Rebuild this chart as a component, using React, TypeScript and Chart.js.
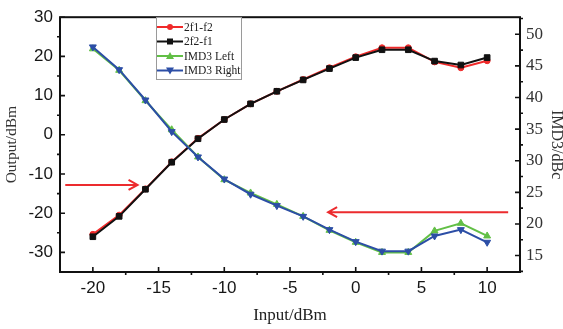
import React, { useEffect, useRef } from 'react';
import { Chart, registerables } from 'chart.js';
Chart.register(...registerables);

// ---- data ----
const inputDbm = [-20, -18, -16, -14, -12, -10, -8, -6, -4, -2, 0, 2, 4, 6, 8, 10];
const out2f1f2 = [-25.4, -20.5, -13.8, -6.9, -0.9, 3.9, 7.9, 11.1, 14.1, 17.1, 19.9, 22.2, 22.2, 18.6, 17.1, 18.9];
const out2f2f1 = [-26.0, -20.8, -13.9, -7.0, -1.0, 3.9, 7.9, 11.1, 14.0, 16.9, 19.7, 21.7, 21.7, 18.8, 17.8, 19.7];
const imd3Left = [47.7, 44.3, 39.5, 34.9, 30.6, 27.0, 24.9, 23.1, 21.2, 19.0, 17.1, 15.5, 15.5, 18.9, 20.1, 18.1];
const imd3Right = [48.0, 44.4, 39.6, 34.6, 30.6, 27.1, 24.7, 22.9, 21.2, 19.1, 17.2, 15.7, 15.7, 18.1, 19.1, 17.1];

const xTicks = [-20, -15, -10, -5, 0, 5, 10];
const leftTicks = [-30, -20, -10, 0, 10, 20, 30];
const rightTicks = [15, 20, 25, 30, 35, 40, 45, 50];

// annotation arrows (data coords: x on input axis, y on left axis)
const arrowFromX = [-22.1, 11.6];
const arrowToX = [-16.6, -2.1];
const arrowY = [-12.8, -19.75];

const RED = '#f02a2a';
const BLACK = '#111111';
const GREEN = '#62bf46';
const BLUE = '#2c4ea6';
const ARROW = '#ec2b2e';

const SERIF = '"Liberation Serif", "Times New Roman", serif';
const SANS = '"Liberation Sans", Arial, sans-serif';

function minorOf(ticks: number[], min: number, max: number) {
  const step = ticks[1] - ticks[0];
  const out: number[] = [];
  for (let i = -1; i < ticks.length; i++) {
    const v = (i < 0 ? ticks[0] - step : ticks[i]) + step / 2;
    if (v > min + 1e-6 && v < max - 1e-6) out.push(v);
  }
  return out;
}

function drawMarker(ctx: CanvasRenderingContext2D, style: string, x: number, y: number, color: string) {
  ctx.fillStyle = color;
  ctx.beginPath();
  if (style === 'circle') {
    ctx.arc(x, y, 3, 0, Math.PI * 2);
  } else if (style === 'rect') {
    ctx.rect(x - 3, y - 3, 6, 6);
  } else if (style === 'tri') {
    ctx.moveTo(x, y - 4);
    ctx.lineTo(x + 4, y + 3);
    ctx.lineTo(x - 4, y + 3);
    ctx.closePath();
  } else {
    ctx.moveTo(x, y + 4);
    ctx.lineTo(x + 4, y - 3);
    ctx.lineTo(x - 4, y - 3);
    ctx.closePath();
  }
  ctx.fill();
}

const decorPlugin = {
  id: 'decor',
  afterDraw(chart: any) {
    const { ctx, chartArea: a, scales } = chart;
    const sx = scales.x, yl = scales.yLeft, yr = scales.yRight;
    ctx.save();
    // frame
    ctx.strokeStyle = BLACK;
    ctx.lineWidth = 2;
    ctx.strokeRect(a.left, a.top, a.right - a.left, a.bottom - a.top);
    // ticks: major inward, minor outward
    ctx.lineWidth = 1.6;
    ctx.beginPath();
    xTicks.forEach((v) => { const p = sx.getPixelForValue(v); ctx.moveTo(p, a.bottom); ctx.lineTo(p, a.bottom - 5); });
    minorOf(xTicks, sx.min, sx.max).forEach((v) => { const p = sx.getPixelForValue(v); ctx.moveTo(p, a.bottom); ctx.lineTo(p, a.bottom + 3); });
    leftTicks.forEach((v) => { const p = yl.getPixelForValue(v); ctx.moveTo(a.left, p); ctx.lineTo(a.left + 5, p); });
    minorOf(leftTicks, yl.min, yl.max).forEach((v) => { const p = yl.getPixelForValue(v); ctx.moveTo(a.left, p); ctx.lineTo(a.left - 3, p); });
    rightTicks.forEach((v) => { const p = yr.getPixelForValue(v); ctx.moveTo(a.right, p); ctx.lineTo(a.right - 5, p); });
    minorOf(rightTicks, yr.min, yr.max).forEach((v) => { const p = yr.getPixelForValue(v); ctx.moveTo(a.right, p); ctx.lineTo(a.right + 3, p); });
    ctx.stroke();

    // arrows
    ctx.strokeStyle = ARROW;
    ctx.lineWidth = 2;
    for (let i = 0; i < arrowY.length; i++) {
      const x0 = sx.getPixelForValue(arrowFromX[i]);
      const x1 = sx.getPixelForValue(arrowToX[i]);
      const y = yl.getPixelForValue(arrowY[i]);
      const dir = x1 > x0 ? 1 : -1;
      ctx.beginPath();
      ctx.moveTo(x0, y);
      ctx.lineTo(x1, y);
      ctx.moveTo(x1 - dir * 9, y - 5);
      ctx.lineTo(x1, y);
      ctx.lineTo(x1 - dir * 9, y + 5);
      ctx.stroke();
    }

    // legend
    const bx = 156, by = 17, bw = 85, bh = 62;
    ctx.fillStyle = '#ffffff';
    ctx.fillRect(bx, by, bw, bh);
    ctx.strokeStyle = '#9a9a9a';
    ctx.lineWidth = 1;
    ctx.strokeRect(bx + 0.5, by + 0.5, bw, bh);
    const styles = ['circle', 'rect', 'tri', 'itri'];
    const ds = chart.data.datasets;
    ctx.font = '11.5px ' + SERIF;
    ctx.textBaseline = 'middle';
    ctx.textAlign = 'left';
    for (let i = 0; i < 4; i++) {
      const y = by + 10 + i * 14.5;
      const c = ds[i].borderColor;
      ctx.strokeStyle = c;
      ctx.lineWidth = 2;
      ctx.beginPath();
      ctx.moveTo(bx + 1, y);
      ctx.lineTo(bx + 27, y);
      ctx.stroke();
      drawMarker(ctx, styles[i], bx + 14, y, c);
      ctx.fillStyle = '#222';
      ctx.fillText(ds[i].label, bx + 28, y + 0.5);
    }
    ctx.restore();
  },
};

export default function App() {
  const ref = useRef<HTMLCanvasElement | null>(null);
  useEffect(() => {
    if (!ref.current) return;
    const mk = (ys: number[]) => inputDbm.map((x, i) => ({ x, y: ys[i] }));
    const chart = new Chart(ref.current, {
      type: 'line',
      data: {
        datasets: [
          { label: '2f1-f2', data: mk(out2f1f2), yAxisID: 'yLeft', borderColor: RED, backgroundColor: RED, pointBackgroundColor: RED, pointBorderColor: RED, pointStyle: 'circle', pointRadius: 3, pointBorderWidth: 1, borderWidth: 2, order: 4 },
          { label: '2f2-f1', data: mk(out2f2f1), yAxisID: 'yLeft', borderColor: BLACK, backgroundColor: BLACK, pointBackgroundColor: BLACK, pointBorderColor: BLACK, pointStyle: 'rect', pointRadius: 4, pointBorderWidth: 1, borderWidth: 2, order: 3 },
          { label: 'IMD3 Left', data: mk(imd3Left), yAxisID: 'yRight', borderColor: GREEN, backgroundColor: GREEN, pointBackgroundColor: GREEN, pointBorderColor: GREEN, pointStyle: 'triangle', pointRadius: 4, pointBorderWidth: 1, borderWidth: 2, order: 2 },
          { label: 'IMD3 Right', data: mk(imd3Right), yAxisID: 'yRight', borderColor: BLUE, backgroundColor: BLUE, pointBackgroundColor: BLUE, pointBorderColor: BLUE, pointStyle: 'triangle', pointRotation: 180, pointRadius: 4, pointBorderWidth: 1, borderWidth: 2, order: 1 },
        ] as any,
      },
      options: {
        responsive: false,
        animation: false,
        devicePixelRatio: 1,
        layout: { padding: { top: 15, left: 0, right: 0, bottom: 0 } },
        plugins: { legend: { display: false }, tooltip: { enabled: false } },
        elements: { line: { tension: 0 } },
        scales: {
          x: {
            type: 'linear',
            min: -22.5,
            max: 12.5,
            afterBuildTicks: (s: any) => { s.ticks = xTicks.map((v) => ({ value: v })); },
            afterFit: (s: any) => { s.height = 57; },
            grid: { display: false, drawTicks: false },
            border: { display: false },
            ticks: { font: { family: SANS, size: 17 }, color: '#161616', padding: 6, maxRotation: 0, autoSkip: false },
            title: { display: true, text: 'Input/dBm', font: { family: SERIF, size: 17, lineHeight: 1 }, color: '#222', padding: { top: 0, bottom: 4.5 } },
          },
          yLeft: {
            type: 'linear',
            position: 'left',
            min: -35,
            max: 30,
            afterBuildTicks: (s: any) => { s.ticks = leftTicks.map((v) => ({ value: v })); },
            afterFit: (s: any) => { s.width = 60; },
            grid: { display: false, drawTicks: false },
            border: { display: false },
            ticks: { font: { family: SANS, size: 17 }, color: '#161616', padding: 7, autoSkip: false },
            title: { display: true, text: 'Output/dBm', font: { family: SERIF, size: 15.5, lineHeight: 1 }, color: '#333', padding: { top: 4.5, bottom: 0 } },
          },
          yRight: {
            type: 'linear',
            position: 'right',
            min: 12.4,
            max: 52.7,
            afterBuildTicks: (s: any) => { s.ticks = rightTicks.map((v) => ({ value: v })); },
            afterFit: (s: any) => { s.width = 43; },
            grid: { display: false, drawTicks: false },
            border: { display: false },
            ticks: { font: { family: SERIF, size: 17 }, color: '#333', padding: 6, autoSkip: false },
            title: { display: true, text: 'IMD3/dBc', font: { family: SERIF, size: 16, lineHeight: 1 }, color: '#333', padding: { top: -1, bottom: 0 } },
          },
        },
      } as any,
      plugins: [decorPlugin],
    });
    return () => chart.destroy();
  }, []);
  return (
    <div style={{ position: 'absolute', left: 0, top: 0, width: 563, height: 329, background: '#fff' }}>
      <canvas ref={ref} width={563} height={329} style={{ display: 'block', width: 563, height: 329 }} />
    </div>
  );
}
